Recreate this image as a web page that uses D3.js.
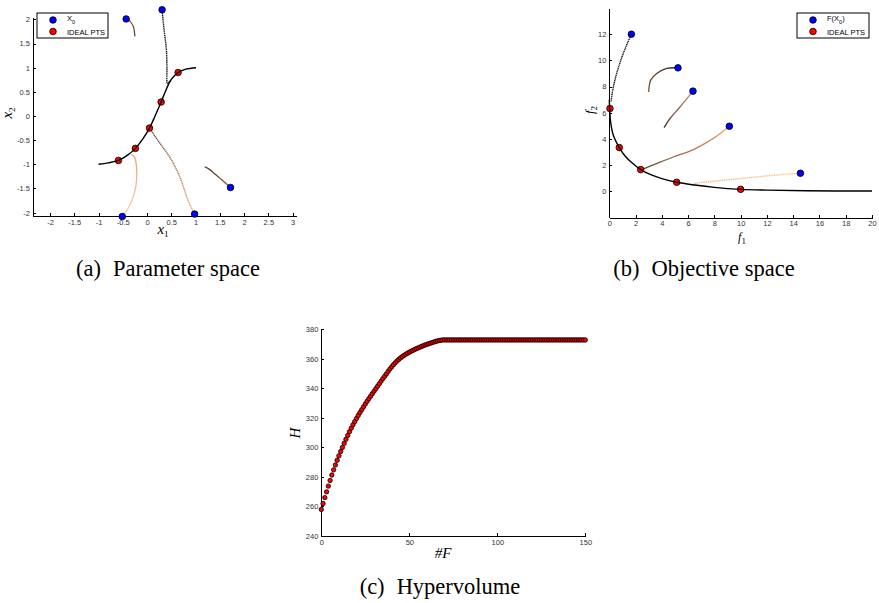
<!DOCTYPE html>
<html>
<head>
<meta charset="utf-8">
<script src="https://cdn.jsdelivr.net/npm/d3@7/dist/d3.min.js"></script>
<style>
  body { margin: 0; background: #fff; }
  .axis path, .axis line { stroke: #000; stroke-width: 1; shape-rendering: crispEdges; }
  .axis text { font-family: "Liberation Sans", Arial, sans-serif; font-size: 7.5px; fill: #333; }
  .legend text { font-family: "Liberation Sans", Arial, sans-serif; font-size: 7.5px; fill: #000; }
  .math { font-family: "Liberation Serif", "Times New Roman", serif; font-style: italic; }
  .caption { font-family: "Liberation Serif", "Times New Roman", serif; font-size: 22.5px; fill: #000; }
</style>
</head>
<body>
<svg id="fig" width="879" height="603"></svg>
<script>
// ---- (a) parameter space data ----
var paretoSet = [[-1, -1], [-0.8, -0.97], [-0.59, -0.92], [-0.4, -0.81], [-0.24, -0.67], [-0.09, -0.48],
  [0.05, -0.25], [0.17, 0.01], [0.29, 0.29], [0.4, 0.56], [0.5, 0.76], [0.64, 0.9], [0.8, 0.97], [1.01, 1.0]];
var idealA = [[-0.59, -0.92], [-0.24, -0.67], [0.05, -0.25], [0.29, 0.29], [0.64, 0.9]];
var startA = [[-0.43, 2.01], [0.31, 2.2], [1.72, -1.48], [0.98, -2.03], [-0.51, -2.08]];
var pathsA = [
  [[-0.43, 2.01], [-0.35, 1.96], [-0.28, 1.85], [-0.26, 1.74], [-0.25, 1.65]],
  [[0.31, 2.2], [0.35, 1.8], [0.40, 1.36], [0.41, 1.0], [0.42, 0.67], [0.46, 0.71], [0.49, 0.74]],
  [[1.72, -1.48], [1.55, -1.33], [1.4, -1.2], [1.28, -1.1], [1.19, -1.05]],
  [[0.98, -2.03], [0.9, -1.87], [0.82, -1.68], [0.75, -1.47], [0.68, -1.27], [0.51, -0.92], [0.3, -0.61], [0.13, -0.37], [0.07, -0.27]],
  [[-0.51, -2.08], [-0.4, -1.93], [-0.3, -1.72], [-0.23, -1.45], [-0.21, -1.2], [-0.23, -0.95], [-0.27, -0.83], [-0.33, -0.8]]
];
var ticksAx = [-2, -1.5, -1, -0.5, 0, 0.5, 1, 1.5, 2, 2.5, 3];
var ticksAy = [-2, -1.5, -1, -0.5, 0, 0.5, 1, 1.5, 2];

// ---- (b) objective space data ----
var paretoFront = [[0.0, 7.0], [0.03, 6.3], [0.1, 5.3], [0.3, 4.3], [0.76, 3.34], [1.2, 2.7], [1.7, 2.2], [2.39, 1.66],
  [3.2, 1.25], [4.0, 0.97], [5.13, 0.69], [6.5, 0.48], [8, 0.3], [10, 0.15], [12, 0.09], [15, 0.04], [20, 0.02]];
var idealB = [[0.05, 6.32], [0.76, 3.34], [2.39, 1.66], [5.13, 0.69], [10.0, 0.15]];
var startB = [[1.68, 12.0], [5.23, 9.43], [6.37, 7.65], [9.14, 4.97], [14.55, 1.38]];
var pathsB = [
  [[1.68, 12.0], [1.07, 10.55], [0.56, 9.0], [0.26, 7.72], [0.13, 6.83]],
  [[5.23, 9.43], [4.37, 9.38], [3.61, 9.0], [3.15, 8.49], [3.0, 7.59]],
  [[6.37, 7.65], [5.38, 6.44], [4.62, 5.56], [4.17, 4.87]],
  [[9.14, 4.97], [7.92, 4.04], [6.4, 3.19], [4.87, 2.62], [3.61, 2.12], [2.47, 1.66]],
  [[14.55, 1.38], [12.49, 1.22], [9.95, 0.97], [7.92, 0.76], [6.4, 0.54], [6.47, 0.41]]
];
var ticksBx = [0, 2, 4, 6, 8, 10, 12, 14, 16, 18, 20];
var ticksBy = [0, 2, 4, 6, 8, 10, 12];

// ---- (c) hypervolume data, one value per #F = 0..150 ----
var hvValues = [
  258.0, 262.0, 266.0, 269.9, 273.8, 277.6, 281.3, 284.8, 288.1, 291.3,
  294.3, 297.2, 300.0, 302.8, 305.5, 308.1, 310.6, 313.0, 315.3, 317.5,
  319.6, 321.7, 323.7, 325.6, 327.5, 329.4, 331.2, 333.0, 334.7, 336.4,
  338.1, 339.8, 341.5, 343.2, 344.9, 346.6, 348.2, 349.8, 351.5, 353.1,
  354.6, 356.0, 357.3, 358.5, 359.6, 360.6, 361.5, 362.3, 363.1, 363.8,
  364.5, 365.1, 365.7, 366.3, 366.9, 367.4, 367.9, 368.4, 368.9, 369.4,
  369.8, 370.2, 370.6, 371.0, 371.4, 371.8, 372.1, 372.4, 372.6, 372.8,
  372.8, 372.8, 372.8, 372.8, 372.8, 372.8, 372.8, 372.8, 372.8, 372.8,
  372.8, 372.8, 372.8, 372.8, 372.8, 372.8, 372.8, 372.8, 372.8, 372.8,
  372.8, 372.8, 372.8, 372.8, 372.8, 372.8, 372.8, 372.8, 372.8, 372.8,
  372.8, 372.8, 372.8, 372.8, 372.8, 372.8, 372.8, 372.8, 372.8, 372.8,
  372.8, 372.8, 372.8, 372.8, 372.8, 372.8, 372.8, 372.8, 372.8, 372.8,
  372.8, 372.8, 372.8, 372.8, 372.8, 372.8, 372.8, 372.8, 372.8, 372.8,
  372.8, 372.8, 372.8, 372.8, 372.8, 372.8, 372.8, 372.8, 372.8, 372.8,
  372.8, 372.8, 372.8, 372.8, 372.8, 372.8, 372.8, 372.8, 372.8, 372.8,
  372.8
];
var ticksCx = [0, 50, 100, 150];
var ticksCy = [240, 260, 280, 300, 320, 340, 360, 380];

// trajectory look: [colour at start point, colour at end point, dotted?]
var styleA = [["#8a5a40", "#6a4430", false], ["#111", "#111", true], ["#8b5e42", "#4a3428", false],
  ["#f4a878", "#5e4636", true], ["#fbd0a8", "#f0a070", false]];
var styleB = [["#111", "#111", true], ["#3a2a20", "#7a5038", false], ["#d09070", "#4a3428", false],
  ["#f4a070", "#5a4a3a", false], ["#fcc890", "#f8b880", true]];

var svg = d3.select("#fig");
svg.append("rect").attr("width", 879).attr("height", 603).attr("fill", "#fff");
var defs = svg.append("defs");

// scales
var xA = d3.scaleLinear().domain([-2.35, 3.07]).range([33, 296]);
var yA = d3.scaleLinear().domain([-2.07, 2.05]).range([216, 17]);
var xB = d3.scaleLinear().domain([0, 20]).range([609.3, 872]);
var yB = d3.scaleLinear().domain([-2, 14]).range([217.5, 8]);
var xC = d3.scaleLinear().domain([0, 150]).range([321.3, 585.3]);
var yC = d3.scaleLinear().domain([240, 380]).range([536, 329.3]);

// matlab style axes: ticks inside, only left + bottom
function drawAxes(xs, ys, xt, yt) {
  svg.append("g").attr("class", "axis")
    .attr("transform", "translate(0," + ys.range()[0] + ")")
    .call(d3.axisBottom(xs).tickValues(xt).tickSizeInner(-3).tickSizeOuter(0).tickPadding(3.5)
      .tickFormat(function (d) { return String(d); }));
  svg.append("g").attr("class", "axis")
    .attr("transform", "translate(" + xs.range()[0] + ",0)")
    .call(d3.axisLeft(ys).tickValues(yt).tickSizeInner(-3).tickSizeOuter(0).tickPadding(3)
      .tickFormat(function (d) { return String(d); }));
}

function drawTrajectories(paths, styles, xs, ys, id) {
  var line = d3.line().x(function (d) { return xs(d[0]); }).y(function (d) { return ys(d[1]); })
    .curve(d3.curveCatmullRom.alpha(0.5));
  paths.forEach(function (p, i) {
    var s = styles[i];
    var a = p[0], b = p[p.length - 1];
    var gr = defs.append("linearGradient").attr("id", id + i)
      .attr("gradientUnits", "userSpaceOnUse")
      .attr("x1", xs(a[0])).attr("y1", ys(a[1]))
      .attr("x2", xs(b[0])).attr("y2", ys(b[1]));
    gr.append("stop").attr("offset", "0%").attr("stop-color", s[0]);
    gr.append("stop").attr("offset", "100%").attr("stop-color", s[1]);
    svg.append("path").attr("d", line(p))
      .attr("fill", "none")
      .attr("stroke", "url(#" + id + i + ")")
      .attr("stroke-width", s[2] ? 1.4 : 1.3)
      .attr("stroke-dasharray", s[2] ? "1.2,0.6" : null);
  });
}

function drawCurve(pts, xs, ys) {
  svg.append("path")
    .attr("d", d3.line().x(function (d) { return xs(d[0]); }).y(function (d) { return ys(d[1]); })
      .curve(d3.curveCatmullRom.alpha(0.5))(pts))
    .attr("fill", "none").attr("stroke", "#000").attr("stroke-width", 1.4);
}

function drawMarkers(pts, xs, ys, fill, r) {
  svg.append("g").selectAll("circle").data(pts).enter().append("circle")
    .attr("cx", function (d) { return xs(d[0]); })
    .attr("cy", function (d) { return ys(d[1]); })
    .attr("r", r)
    .attr("fill", fill).attr("stroke", "#000").attr("stroke-width", 0.8);
}

function drawLegend(x0, y0, w, h, firstLabel) {
  var g = svg.append("g").attr("class", "legend");
  g.append("rect").attr("x", x0).attr("y", y0).attr("width", w).attr("height", h)
    .attr("fill", "#fff").attr("stroke", "#000").attr("stroke-width", 1);
  g.append("circle").attr("cx", x0 + 16).attr("cy", y0 + 7).attr("r", 3.3)
    .attr("fill", "#0000ff").attr("stroke", "#000").attr("stroke-width", 0.8);
  g.append("circle").attr("cx", x0 + 16).attr("cy", y0 + 18.5).attr("r", 3.3)
    .attr("fill", "#ff0000").attr("stroke", "#000").attr("stroke-width", 0.8);
  var t = g.append("text").attr("x", x0 + 30).attr("y", y0 + 8);
  t.append("tspan").text(firstLabel[0]);
  t.append("tspan").attr("font-size", "5.5px").attr("dy", 2.5).text("0");
  if (firstLabel[1]) t.append("tspan").attr("dy", -2.5).text(firstLabel[1]);
  g.append("text").attr("x", x0 + 30).attr("y", y0 + 21.5).text("IDEAL PTS");
}

function mathLabel(x, y, sym, sub, rotate, size) {
  var t = svg.append("text").attr("class", "math")
    .attr("text-anchor", "middle").attr("font-size", (size || 15) + "px")
    .attr("transform", "translate(" + x + "," + y + ")" + (rotate ? " rotate(-90)" : ""));
  t.append("tspan").text(sym);
  if (sub) t.append("tspan").attr("font-style", "normal").attr("font-size", "9px").attr("dy", 3).text(sub);
  return t;
}

function caption(x, y, tag, words) {
  var t = svg.append("text").attr("class", "caption").attr("x", x).attr("y", y)
    .attr("text-anchor", "middle");
  t.append("tspan").text(tag);
  t.append("tspan").attr("dx", 12).text(words);
}

// ---- panel (a) ----
drawAxes(xA, yA, ticksAx, ticksAy);
drawTrajectories(pathsA, styleA, xA, yA, "ga");
drawMarkers(idealA, xA, yA, "#ff0000", 3.3);
drawCurve(paretoSet, xA, yA);
drawMarkers(startA, xA, yA, "#0000ff", 3.3);
drawLegend(37, 13, 71, 25, ["X", null]);
mathLabel(163, 234, "x", "1", false, 15);
mathLabel(12, 113, "x", "2", true, 15);

// ---- panel (b) ----
drawAxes(xB, yB, ticksBx, ticksBy);
drawTrajectories(pathsB, styleB, xB, yB, "gb");
drawMarkers(idealB, xB, yB, "#ff0000", 3.3);
drawCurve(paretoFront, xB, yB);
drawMarkers(startB, xB, yB, "#0000ff", 3.3);
drawLegend(797, 13, 72, 25, ["F(X", ")"]);
mathLabel(742, 240.5, "f", "1", false, 12);
mathLabel(594, 110, "f", "2", true, 13);

// ---- panel (c) ----
drawAxes(xC, yC, ticksCx, ticksCy);
svg.append("g").selectAll("circle").data(hvValues).enter().append("circle")
  .attr("cx", function (d, i) { return xC(i); })
  .attr("cy", function (d) { return yC(d); })
  .attr("r", 2.2)
  .attr("fill", "#ff0000").attr("stroke", "#000").attr("stroke-width", 0.8);
mathLabel(300, 433, "H", null, true, 15);
mathLabel(443, 558, "#F", null, false, 15);

// ---- captions ----
caption(168, 276, "(a)", "Parameter space");
caption(704, 276, "(b)", "Objective space");
caption(440, 594, "(c)", "Hypervolume");
</script>
</body>
</html>
